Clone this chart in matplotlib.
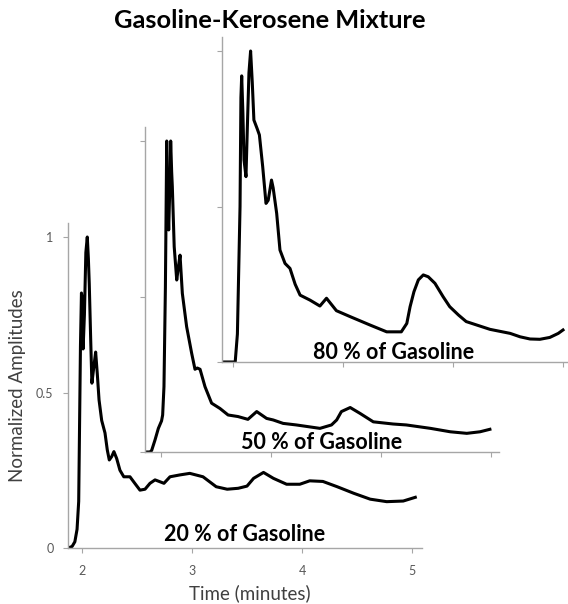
import matplotlib
matplotlib.use("Agg")
import matplotlib.pyplot as plt

plt.rcParams['font.family'] = ['Lato', 'DejaVu Sans']

# ---- data (time in minutes, normalized amplitude) ----
t20 = [1.873, 1.91, 1.935, 1.955, 1.97, 1.978, 1.986, 1.995, 2.003, 2.01, 2.022, 2.035,
       2.048, 2.058, 2.066, 2.079, 2.09, 2.11, 2.124, 2.139, 2.155, 2.179, 2.209, 2.23,
       2.248, 2.27, 2.29, 2.315, 2.345, 2.38, 2.436, 2.48, 2.527, 2.573, 2.618, 2.664,
       2.709, 2.745, 2.8, 2.89, 2.98, 3.10, 3.22, 3.32, 3.42, 3.50, 3.56, 3.65, 3.74, 3.86,
       3.98, 4.07, 4.19, 4.32, 4.47, 4.62, 4.77, 4.92, 5.03]
a20 = [0.0, 0.005, 0.02, 0.06, 0.15, 0.40, 0.65, 0.82, 0.80, 0.64, 0.75, 0.95,
       1.0, 0.93, 0.85, 0.67, 0.53, 0.59, 0.63, 0.56, 0.476, 0.41, 0.37, 0.315,
       0.283, 0.294, 0.31, 0.288, 0.25, 0.229, 0.229, 0.208, 0.186, 0.189, 0.208, 0.219,
       0.213, 0.208, 0.229, 0.235, 0.240, 0.229, 0.197, 0.189, 0.192, 0.199, 0.224, 0.243, 0.224, 0.205,
       0.205, 0.216, 0.214, 0.197, 0.176, 0.157, 0.149, 0.151, 0.163]

t50 = [1.855, 1.9, 1.915, 1.945, 1.976, 2.005, 2.015, 2.027, 2.04, 2.052, 2.058, 2.07,
       2.08, 2.088, 2.097, 2.103, 2.12, 2.143, 2.16, 2.173, 2.194, 2.233, 2.279, 2.309,
       2.33, 2.355, 2.4, 2.46, 2.536, 2.61, 2.70, 2.79, 2.87, 2.96, 3.02, 3.11, 3.23,
       3.445, 3.55, 3.597, 3.64, 3.72, 3.81, 3.93, 4.11, 4.23, 4.45, 4.63, 4.78, 4.90, 4.99]
a50 = [0.0, 0.0, 0.005, 0.038, 0.076, 0.10, 0.119, 0.21, 0.53, 1.0, 0.85, 0.714,
       0.85, 1.0, 0.90, 0.853, 0.66, 0.553, 0.60, 0.633, 0.51, 0.403, 0.317, 0.266,
       0.27, 0.266, 0.21, 0.157, 0.14, 0.119, 0.114, 0.105, 0.13, 0.108, 0.103, 0.092, 0.087,
       0.076, 0.087, 0.103, 0.13, 0.143, 0.124, 0.097, 0.09, 0.087, 0.076, 0.065, 0.06, 0.065, 0.073]

t80 = [1.897, 2.02, 2.04, 2.064, 2.072, 2.079, 2.09, 2.1, 2.118, 2.13, 2.145, 2.16,
       2.175, 2.19, 2.22, 2.24, 2.27, 2.30, 2.32, 2.35, 2.365, 2.397, 2.427, 2.473,
       2.518, 2.565, 2.61, 2.70, 2.79, 2.85, 2.94, 3.064, 3.245, 3.397, 3.53, 3.58,
       3.61, 3.645, 3.685, 3.73, 3.775, 3.836, 3.91, 3.97, 4.05, 4.12, 4.215, 4.336,
       4.52, 4.61, 4.70, 4.79, 4.88, 4.957, 5.0]
a80 = [0.0, 0.0, 0.09, 0.50, 0.85, 0.92, 0.80, 0.65, 0.596, 0.75, 0.93, 1.0,
       0.90, 0.778, 0.75, 0.73, 0.628, 0.51, 0.52, 0.585, 0.56, 0.478, 0.36, 0.317,
       0.301, 0.25, 0.215, 0.199, 0.18, 0.205, 0.165, 0.146, 0.119, 0.097, 0.097, 0.124,
       0.178, 0.226, 0.264, 0.28, 0.274, 0.253, 0.21, 0.178, 0.151, 0.13, 0.119, 0.105,
       0.092, 0.081, 0.074, 0.073, 0.079, 0.092, 0.103]

series = [
    (t20, a20, "20 % of Gasoline"),
    (t50, a50, "50 % of Gasoline"),
    (t80, a80, "80 % of Gasoline"),
]
xticks = [2, 3, 4, 5]
yticks = [0, 0.5, 1]

# ---- layout (pixels) ----
W, H = 568, 604
fig = plt.figure(figsize=(W / 100, H / 100), dpi=100)
PX_X = 110.0   # pixels per minute
PX_Y = 311.0   # pixels per unit amplitude
AW, AH = 354, 325
# (left edge px, px of x=2, px of y=0 from top)
frames = [(68, 82, 548), (145, 161, 452), (222, 233, 362)]
label_pos = [(3.48, 0.042), (3.46, 0.032), (3.46, 0.032)]
grey = '#a6a6a6'

for i, ((L, x2, y0), (t, a, lab), (lx, ly)) in enumerate(zip(frames, series, label_pos)):
    ax = fig.add_axes([L / W, (H - y0) / H, AW / W, AH / H])
    ax.set_facecolor('none')
    ax.plot(t, a, color='black', lw=2.2, solid_joinstyle='round')
    ax.set_xlim(2 - (x2 - L) / PX_X, 2 + (L + AW - x2) / PX_X)
    ax.set_ylim(0, AH / PX_Y)
    for s in ['top', 'right']:
        ax.spines[s].set_visible(False)
    for s in ['left', 'bottom']:
        ax.spines[s].set_color(grey)
        ax.spines[s].set_linewidth(1.0)
    ax.set_xticks(xticks)
    ax.set_yticks(yticks)
    ax.tick_params(direction='out', length=3.5, width=0.8, color=grey,
                   labelcolor='#595959', labelsize=9)
    ax.tick_params(axis='x', pad=9)
    ax.tick_params(axis='y', pad=7)
    if i == 0:
        ax.set_xticklabels([str(v) for v in xticks])
        ax.set_yticklabels(['0', '0.5', '1'])
        ax.set_xlabel('Time (minutes)', fontsize=13.5, color='#404040')
        ax.set_ylabel('Normalized Amplitudes', fontsize=13.5, color='#404040')
        ax.xaxis.set_label_coords(0.514, -0.112)
        ax.yaxis.set_label_coords(-0.12, 0.5)
    else:
        ax.set_xticklabels([])
        ax.set_yticklabels([])
    ax.text(lx, ly, lab, fontsize=15.5, fontweight='bold', ha='center', va='center')

fig.text(270 / W, 1 - 21 / H, 'Gasoline-Kerosene Mixture', fontsize=18.3,
         fontweight='bold', ha='center', va='center')

fig.savefig('out.png', dpi=100)
